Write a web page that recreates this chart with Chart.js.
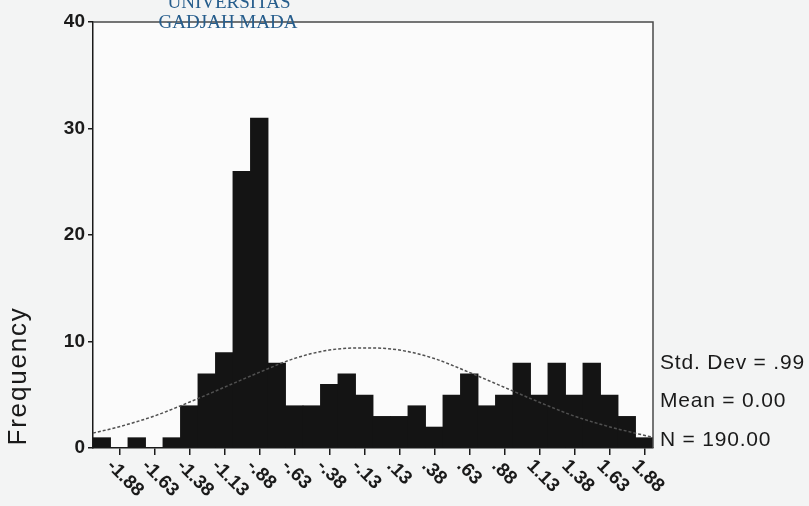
<!DOCTYPE html>
<html>
<head>
<meta charset="utf-8">
<script src="https://cdn.jsdelivr.net/npm/chart.js@4/dist/chart.umd.min.js"></script>
<style>
  html, body { margin: 0; padding: 0; background: #f3f4f4; }
  #wrap { width: 809px; height: 506px; }
</style>
</head>
<body>
<div id="wrap"><canvas id="hist" width="809" height="506"></canvas></div>
<script>
// Histogram bins (centre of each 0.125-wide bin) and their counts
const binCenters = [-1.875, -1.75, -1.625, -1.5, -1.375, -1.25, -1.125, -1.0,
                    -0.875, -0.75, -0.625, -0.5, -0.375, -0.25, -0.125, 0.0,
                     0.125, 0.25, 0.375, 0.5, 0.625, 0.75, 0.875, 1.0,
                     1.125, 1.25, 1.375, 1.5, 1.625, 1.75, 1.875, 2.0];
const frequencies = [1, 0, 1, 0, 1, 4, 7, 9,
                     26, 31, 8, 4, 4, 6, 7, 5,
                     3, 3, 4, 2, 5, 7, 4, 5,
                     8, 5, 8, 5, 8, 5, 3, 1];

// Labelled positions on the horizontal axis
const tickValues = [-1.875, -1.625, -1.375, -1.125, -0.875, -0.625, -0.375, -0.125,
                     0.125, 0.375, 0.625, 0.875, 1.125, 1.375, 1.625, 1.875];
const tickLabels = ['-1.88', '-1.63', '-1.38', '-1.13', '-.88', '-.63', '-.38', '-.13',
                    '.13', '.38', '.63', '.88', '1.13', '1.38', '1.63', '1.88'];

// Fitted normal curve (expected frequency per bin)
const curveX = [-1.9375, -1.75, -1.5, -1.25, -1.0, -0.75, -0.5, -0.25, 0.0,
                 0.25, 0.5, 0.75, 1.0, 1.25, 1.5, 1.75, 2.0625];
const curveY = [1.4, 2.0, 3.0, 4.3, 5.7, 7.1, 8.4, 9.2, 9.4,
                9.2, 8.4, 7.1, 5.7, 4.3, 3.0, 2.0, 1.0];

const yTicks = [0, 10, 20, 30, 40];
const statLines = ['Std. Dev = .99', 'Mean = 0.00', 'N = 190.00'];
const yTitle = 'Frequency';
const stampLines = ['UNIVERSITAS', 'GADJAH MADA'];

const INK = '#1a1a1a';
const SANS = '"Liberation Sans", Arial, sans-serif';

// Paper background, lighter plot panel, frame and annotations
const decor = {
  id: 'decor',
  beforeDraw(chart) {
    const { ctx, chartArea: a } = chart;
    ctx.save();
    ctx.fillStyle = '#f3f4f4';
    ctx.fillRect(0, 0, chart.width, chart.height);
    ctx.fillStyle = '#fbfbfb';
    ctx.fillRect(a.left, a.top, a.right - a.left, a.bottom - a.top);
    ctx.restore();
  },
  afterDraw(chart) {
    const { ctx, chartArea: a } = chart;
    const xs = chart.scales.x;
    ctx.save();

    // top and right frame lines
    ctx.strokeStyle = '#4a4a4a';
    ctx.lineWidth = 1.5;
    ctx.beginPath();
    ctx.moveTo(a.left, a.top);
    ctx.lineTo(a.right, a.top);
    ctx.lineTo(a.right, a.bottom);
    ctx.stroke();

    // slanted tick labels under the x axis
    ctx.fillStyle = INK;
    ctx.font = 'bold 19px ' + SANS;
    ctx.textAlign = 'left';
    ctx.textBaseline = 'middle';
    tickValues.forEach((v, i) => {
      const px = xs.getPixelForValue(v);
      ctx.save();
      ctx.translate(px + 8, a.bottom + 15);
      ctx.rotate(Math.PI / 4);
      ctx.fillText(tickLabels[i], 0, 0);
      ctx.restore();
    });

    // vertical axis title
    ctx.save();
    ctx.font = '26px ' + SANS;
    ctx.letterSpacing = '1.8px';
    ctx.textAlign = 'center';
    ctx.textBaseline = 'alphabetic';
    ctx.translate(26, 376);
    ctx.rotate(-Math.PI / 2);
    ctx.fillText(yTitle, 0, 0);
    ctx.restore();

    // summary statistics
    ctx.font = '21px ' + SANS;
    ctx.letterSpacing = '0.8px';
    ctx.textAlign = 'left';
    ctx.textBaseline = 'alphabetic';
    const baselines = [369, 407, 446];
    statLines.forEach((s, i) => ctx.fillText(s, a.right + 7, baselines[i]));

    // stamp over the top edge
    ctx.letterSpacing = '0px';
    ctx.font = '19px "Liberation Serif", "DejaVu Serif", serif';
    ctx.fillStyle = '#265d8c';
    ctx.textAlign = 'center';
    ctx.fillText(stampLines[0], 229, 8);
    ctx.fillText(stampLines[1], 228, 28);
    ctx.restore();
  }
};

new Chart(document.getElementById('hist'), {
  type: 'bar',
  data: {
    datasets: [
      {
        type: 'line',
        data: curveX.map((x, i) => ({ x, y: curveY[i] })),
        borderColor: '#505050',
        borderWidth: 1.5,
        borderDash: [3, 2],
        pointRadius: 0,
        fill: false,
        cubicInterpolationMode: 'monotone',
        order: 0
      },
      {
        type: 'bar',
        data: binCenters.map((x, i) => ({ x, y: frequencies[i] })),
        backgroundColor: '#141414',
        borderWidth: 0,
        barPercentage: 1.05,
        categoryPercentage: 1,
        order: 1
      }
    ]
  },
  options: {
    responsive: false,
    animation: false,
    devicePixelRatio: 1,
    layout: { padding: { left: 0, top: 22, right: 156, bottom: 0 } },
    plugins: { legend: { display: false }, tooltip: { enabled: false } },
    scales: {
      x: {
        type: 'linear',
        min: -1.9375,
        max: 2.0625,
        offset: false,
        afterBuildTicks: s => { s.ticks = tickValues.map(v => ({ value: v })); },
        afterFit: s => { s.height = 58; },
        ticks: { display: false },
        grid: { drawOnChartArea: false, drawTicks: true, tickLength: 7, color: INK, lineWidth: 1.5 },
        border: { display: true, color: INK, width: 1.5 }
      },
      y: {
        min: 0,
        max: 40,
        afterBuildTicks: s => { s.ticks = yTicks.map(v => ({ value: v })); },
        afterFit: s => { s.width = 93; },
        ticks: { color: INK, font: { family: SANS, size: 19, weight: 'bold' }, padding: 3 },
        grid: { drawOnChartArea: false, drawTicks: true, tickLength: 5, color: INK, lineWidth: 1.5 },
        border: { display: true, color: INK, width: 1.5 }
      }
    }
  },
  plugins: [decor]
});
</script>
</body>
</html>
